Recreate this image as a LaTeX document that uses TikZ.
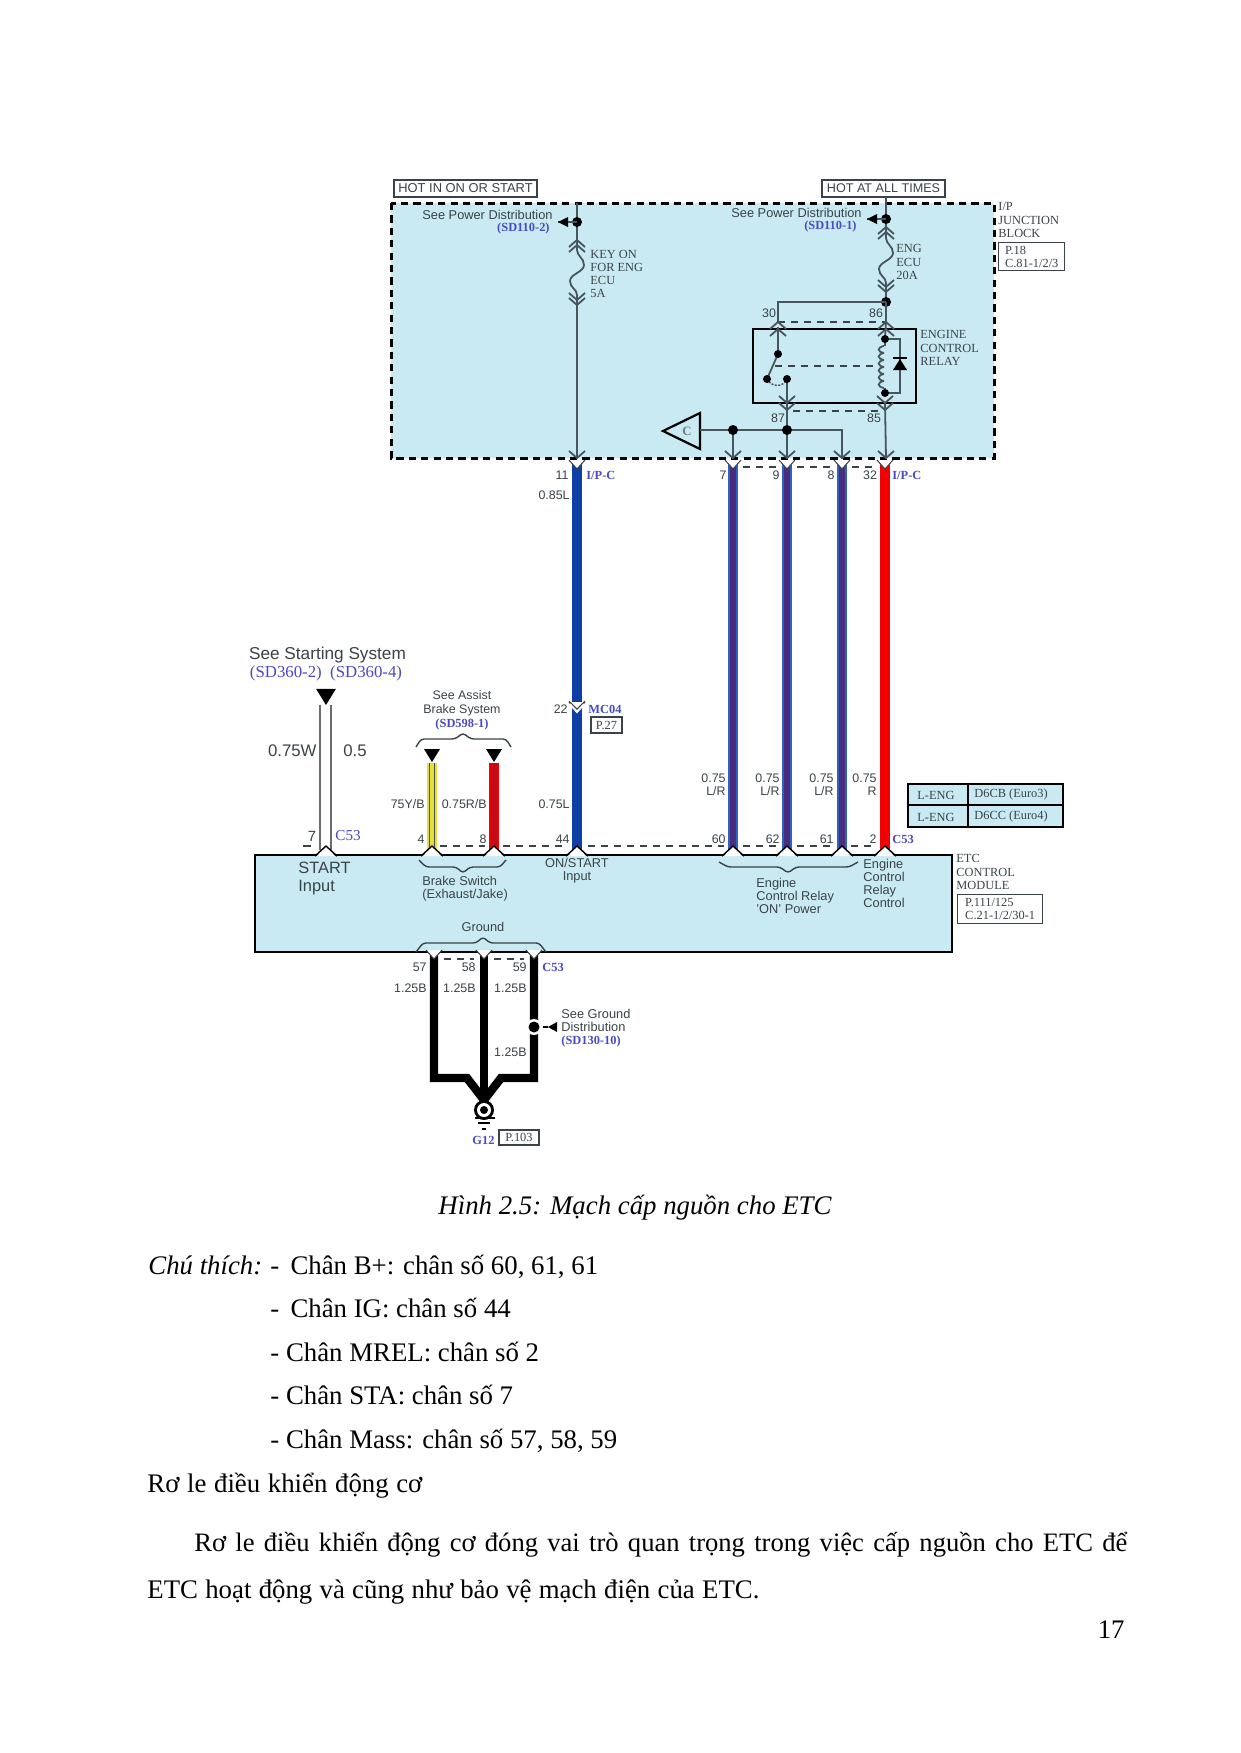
\documentclass[tikz,border=0pt]{standalone}
\usepackage{fontspec}
\setmainfont{Liberation Serif}
\setsansfont{Liberation Sans}
\definecolor{panel}{HTML}{C9EAF2}
\definecolor{ink}{HTML}{3A4348}
\definecolor{wireg}{HTML}{46565C}
\definecolor{refblue}{HTML}{4A4AC4}
\definecolor{wblue}{HTML}{0D3FA5}
\definecolor{wedge}{HTML}{2F5FC0}
\definecolor{wpurple}{HTML}{4A2C7C}
\definecolor{wred}{HTML}{F20000}
\definecolor{wyellow}{HTML}{E4E03A}
\definecolor{wdred}{HTML}{C40A14}
\newcommand\fsz[2]{\fontsize{#1}{#2}\selectfont}
\tikzset{
  x=0.5pt,y=-0.5pt,
  lbl/.style={inner sep=0pt,text=ink,align=left,font=\sffamily\fsz{6.4}{6.6}},
  lblc/.style={lbl,align=center},
  lblr/.style={lbl,align=right},
  ser/.style={inner sep=0pt,text=ink,align=left,font=\fsz{6.2}{6.6}},
  ref/.style={inner sep=0pt,text=refblue,font=\bfseries\fsz{6.2}{6.6}},
  refbig/.style={inner sep=0pt,text=refblue,font=\fsz{8.4}{9}},
  num/.style={inner sep=0pt,text=ink,font=\sffamily\fsz{6.2}{6.6}},
  big/.style={inner sep=0pt,text=ink,align=left,font=\sffamily\fsz{8.4}{9}},
  bodyt/.style={inner sep=0pt,text=black,anchor=base west,font=\fsz{13.4}{14}},
  thinw/.style={draw=wireg,line width=0.9pt},
  frameb/.style={draw=ink,line width=0.7pt},
  dashb/.style={draw=black,line width=1.5pt,dash pattern=on 3.6pt off 2.6pt},
  dashw/.style={draw=ink,line width=0.7pt,dash pattern=on 3.5pt off 3pt},
  brace/.style={draw=ink,line width=0.7pt,rounded corners=1.5pt},
  chevd/.pic={\draw[thinw] (-8,-7)--(0,0)--(8,-7);},
  chevu/.pic={\draw[thinw] (-8,7)--(0,0)--(8,7);},
  tridown/.pic={\fill[white] (-8,-3)--(8,-3)--(0,6)--cycle;\draw[ink,line width=0.5pt] (-8,-3)--(0,6)--(8,-3);},
  triup/.pic={\fill[white] (-9,1)--(9,1)--(0,-9)--cycle;\draw[black,line width=0.7pt] (-11,1)--(0,-9)--(11,1);},
  blob/.pic={\fill[black] (0,0) circle (5);},
  blackdown/.pic={\fill[black] (-8,-13)--(8,-13)--(0,0)--cycle;},
  lefttip/.pic={\fill[black] (0,0)--(10,-5)--(10,5)--cycle;},
}
\newcommand\stripewire[2]{%
  \draw[wedge,line width=5pt] (#1)--(#2);
  \draw[wpurple,line width=3.2pt] (#1)--(#2);}
\begin{document}
\begin{tikzpicture}
\useasboundingbox (0,0) rectangle (1241,1753);
\fill[white] (0,0) rectangle (1241,1753);

% ---- junction block
\fill[panel] (391,203) rectangle (994,458);
\draw[dashb] (391,203) rectangle (994,458);
\node[frameb,inner sep=0pt,minimum width=71.5pt,minimum height=8.5pt,text=ink,font=\sffamily\fsz{6.45}{6.5}] (hoton) at (465.5,188.5) {HOT IN ON OR START};
\node[frameb,inner sep=0pt,minimum width=61.5pt,minimum height=8.5pt,text=ink,font=\sffamily\fsz{6.3}{6.5}] (hotall) at (883.5,188.5) {HOT AT ALL TIMES};

% coordinates
\coordinate (lt) at (577,203);
\coordinate (ld) at (577,222);
\coordinate (lf1) at (577,250);
\coordinate (lf2) at (577,295);
\coordinate (lb) at (577,458);
\coordinate (rt) at (886,197);
\coordinate (rd) at (886,219);
\coordinate (rf1) at (886,238);
\coordinate (rf2) at (886,283);
\coordinate (rj) at (886,302);
\coordinate (c30) at (778,322);
\coordinate (c86) at (886,322);
\coordinate (r85) at (886,405);
\coordinate (rb) at (886,458);
\coordinate (c87) at (787,405);
\coordinate (j1) at (733,430);
\coordinate (j2) at (787,430);
\coordinate (j3) at (842,430);
\coordinate (b1) at (733,458);
\coordinate (b2) at (787,458);
\coordinate (b3) at (842,458);
\coordinate (sw1) at (778,354);
\coordinate (sw2) at (767,379);
\coordinate (sw3) at (787,379);
\coordinate (co1) at (885,339);
\coordinate (co2) at (885,393);

% left feed + fuse
\draw[thinw] (lt)--(lf1) .. controls (577,256) and (584,258) .. (584,265) .. controls (584,272) and (570,274) .. (570,281) .. controls (570,288) and (577,289) .. (lf2)--(lb);
\pic at (577,240) {chevu}; \pic at (577,245) {chevu};
\pic at (577,300) {chevd}; \pic at (577,305) {chevd};
\pic at (ld) {blob};
\coordinate (la) at (558,222);
\draw[thinw] (ld)--(la);
\pic at (la) {lefttip};
% right feed + fuse
\draw[thinw] (rt)--(rf1) .. controls (886,244) and (893,246) .. (893,253) .. controls (893,260) and (879,262) .. (879,269) .. controls (879,276) and (886,277) .. (rf2)--(rj);
\pic at (886,227) {chevu}; \pic at (886,232) {chevu};
\pic at (886,287) {chevd}; \pic at (886,292) {chevd};
\pic at (rd) {blob};
\coordinate (ra) at (867,219);
\draw[thinw] (rd)--(ra);
\pic at (ra) {lefttip};
\pic at (rj) {blob};
\draw[thinw] (rj)--(c86);
\draw[thinw] (rj)-|(c30);

% relay
\draw[draw=black,line width=1.3pt] (753,329) rectangle (916,403);
\draw[dashw] (c30)--(c86);
\draw[thinw] (778,327)--(sw1)--(sw2);
\draw[thinw] (sw3)--(c87);
\draw[wireg,line width=0.7pt,dash pattern=on 1pt off 0.7pt] (sw2) .. controls (771,387) and (783,388) .. (sw3);
\foreach \p in {sw1,sw2,sw3} {\pic[scale=0.8] at (\p) {blob};}
\draw[dashw] (775,366)--(878,366);
\draw[thinw] (c86)--(co1);
\foreach \y in {346,353,360,367,374,381} {\draw[thinw] (884,\y) .. controls (877,\y+1) and (877,\y+6) .. (884,\y+7);}
\draw[thinw] (co1)--(885,346);
\draw[thinw] (885,388)--(co2);
\draw[thinw] (co1)-|(900,393)--(co2);
\fill[black] (900,359)--(907,370)--(893,370)--cycle;
\draw[black,line width=0.8pt] (893,358)--(907,358);
\pic[scale=0.8] at (co1) {blob};
\pic[scale=0.8] at (co2) {blob};
\pic at (778,329) {chevu}; \pic at (886,329) {chevu};
\pic at (778,322) {chevu}; \pic at (886,322) {chevu};
\pic at (787,403) {chevd}; \pic at (885,403) {chevd};
\pic at (787,410) {chevd}; \pic at (885,410) {chevd};
\draw[dashw] (793,411)--(880,411);
\draw[thinw] (787,403)--(j2);
\draw[thinw] (885,403)--(rb);

% C triangle and bus
\node[inner sep=0pt,text=ink!70,font=\bfseries\fsz{6.4}{7}] (ctext) at (687,431) {C};
\coordinate (ctri) at (700,430);
\draw[black,line width=1.1pt] (663,431)--(700,413)--(700,449)--cycle;
\draw[thinw] (ctri)--(j1)--(j2)--(j3)--(b3);
\draw[thinw] (j1)--(b1);
\draw[thinw] (j2)--(b2);
\pic at (j1) {blob}; \pic at (j2) {blob};
\foreach \p in {lb,b1,b2,b3,rb} {\pic at (\p) {chevd};}

% ---- ETC module
\fill[panel] (255,855) rectangle (952,952);
\draw[black,line width=1pt] (255,855) rectangle (952,952);
\draw[black,line width=1.3pt] (255,855)--(366,855);

% main coloured wires
\coordinate (p44) at (577,853); \coordinate (p60) at (733,853); \coordinate (p62) at (787,853);
\coordinate (p61) at (842,853); \coordinate (p2) at (885,853);
\draw[wblue,line width=5pt] (577,463)--(p44);
\stripewire{733,463}{p60}
\stripewire{787,463}{p62}
\stripewire{842,463}{p61}
\draw[wred,line width=5pt] (885,463)--(p2);
\foreach \x in {577,733,787,842,885} {\pic at (\x,463) {tridown};}
\draw[dashw] (743,467)--(778,467);
\draw[dashw] (797,467)--(832,467);
\draw[dashw] (852,467)--(876,467);

% MC04 splice
\pic at (577,705) {tridown};
\draw[white,line width=1pt] (570,704)--(577,712)--(584,704);
\draw[ink,line width=0.5pt] (569,701)--(577,709)--(585,701);

% start wire
\coordinate (stt) at (326,705);
\coordinate (st1) at (320,705); \coordinate (st2) at (331,705);
\coordinate (stb1) at (320,850); \coordinate (stb2) at (331,850);
\draw[draw=gray!85!black,line width=1pt] (st1)--(stb1);
\draw[draw=gray!85!black,line width=1pt] (st2)--(stb2);
\pic[scale=1.25] at (stt) {blackdown};
\pic at (326,855) {triup};
\draw[ink,line width=0.7pt] (303,846)--(311,846);

% brake wires
\coordinate (y1) at (432,763); \coordinate (y2) at (432,853);
\coordinate (q1) at (494,763); \coordinate (q2) at (494,853);
\draw[wyellow,line width=5pt] (y1)--(y2);
\draw[black!70,line width=0.5pt] ([xshift=-1.1pt]y1)--([xshift=-1.1pt]y2);
\draw[black!70,line width=0.5pt] ([xshift=1.1pt]y1)--([xshift=1.1pt]y2);
\draw[wred,line width=5pt] (q1)--(q2);
\draw[wdred,line width=3pt] (q1)--(q2);
\pic at (432,762) {blackdown};
\pic at (494,762) {blackdown};
\foreach \x in {432,494,577,733,787,842,885} {\pic at (\x,855) {triup};}
\draw[dashw] (440,846)--(485,846);
\draw[dashw] (503,846)--(568,846);
\draw[dashw] (588,846)--(724,846);
\draw[dashw] (743,846)--(778,846);
\draw[dashw] (797,846)--(832,846);
\draw[dashw] (851,846)--(876,846);

% ground wires
\coordinate (g1) at (434,952); \coordinate (g2) at (484,952); \coordinate (g3) at (534,952);
\coordinate (gc) at (484,1100); \coordinate (gj) at (534,1027);
\draw[black,line width=4.2pt,line join=miter] (g1)--(434,1078)--(467,1078)--(gc);
\draw[black,line width=4.2pt,line join=miter] (g3)--(534,1078)--(501,1078)--(gc);
\draw[black,line width=4.2pt] (g2)--(gc);
\foreach \x in {434,484,534} {\pic at (\x,953) {tridown};}
\draw[dashw] (444,959)--(474,959);
\draw[dashw] (494,959)--(524,959);
\fill[white] (gj) circle (8);
\fill[black] (gj) circle (5.5);
\coordinate (gt) at (548,1027);
\draw[black,line width=0.8pt] (543,1027)--(gt);
\fill[black] (gt)--(557,1022)--(557,1032)--cycle;
% ground symbol
\fill[black] (484,1110) circle (10);
\fill[white] (484,1110) circle (7);
\fill[black] (484,1110) circle (4);
\draw[black,line width=0.9pt] (475,1118)--(495,1118);
\draw[black,line width=0.9pt] (478,1123)--(490,1123);
\draw[black,line width=0.9pt] (482,1129)--(486,1129);

% braces
\draw[brace] (416,747)--(421,739)--(455,739)--(463,733)--(471,739)--(506,739)--(511,747);
\draw[brace] (419,860)--(426,867)--(456,867)--(463,873)--(470,867)--(500,867)--(506,860);
\draw[brace] (719,862)--(728,867)--(780,867)--(788,873)--(796,867)--(849,867)--(858,862);
\draw[brace] (416,952)--(423,943)--(476,943)--(483,937)--(490,943)--(539,943)--(546,952);

% ---- labels, top block
\node[lbl,anchor=east] (tsp1) at (553,215) {See Power Distribution};
\node[ref,anchor=east] (tsd1) at (550,229) {(SD110-2)};
\node[lbl,anchor=east] (tsp2) at (862,213) {See Power Distribution};
\node[ref,anchor=east] (tsd2) at (857,227) {(SD110-1)};
\node[ser,anchor=west] (tk) at (590,274) {KEY ON\\FOR ENG\\ECU\\5A};
\node[ser,anchor=west] (te) at (896,262) {ENG\\ECU\\20A};
\node[ser,anchor=west] (tr) at (920,348) {ENGINE\\CONTROL\\RELAY};
\node[ser,anchor=west] (tj) at (998,220) {I/P\\JUNCTION\\BLOCK};
\node[ser,frameb,anchor=north west,minimum width=33pt,minimum height=14pt,inner xsep=1.5pt] (tjb) at (998,242) {P.18\\C.81-1/2/3};
\node[num,anchor=center] (n30) at (769,313) {30};
\node[num,anchor=center] (n86) at (876,313) {86};
\node[num,anchor=center] (n87) at (778,418) {87};
\node[num,anchor=center] (n85) at (874,418) {85};
\node[num,anchor=east] (n11) at (569,475) {11};
\node[ref,anchor=west] (ipc1) at (586,475) {I/P-C};
\node[num,anchor=center] (n7) at (723,475) {7};
\node[num,anchor=center] (n9) at (776,475) {9};
\node[num,anchor=center] (n8) at (831,475) {8};
\node[num,anchor=center] (n32) at (870,475) {32};
\node[ref,anchor=west] (ipc2) at (892,475) {I/P-C};
\node[num,anchor=east] (n085l) at (570,495) {0.85L};

% ---- labels, mid
\node[lblc,font=\sffamily\fsz{8.6}{9}] (tstart) at (327.5,655) {See Starting System};
\node[refbig] (tsd36) at (326,673) {(SD360-2)\ \ (SD360-4)};
\node[big,anchor=east] (t075w) at (317,751) {0.75W};
\node[big,anchor=west] (t05) at (343,751) {0.5};
\node[num,anchor=center,font=\sffamily\fsz{7.4}{8}] (n7b) at (312,836) {7};
\node[refbig,anchor=west,font=\fsz{7.6}{8}] (c53a) at (335,836) {C53};
\node[lblc,font=\sffamily\fsz{6.2}{6.9}] (tassist) at (462,703) {See Assist\\Brake System};
\node[ref] (tsd598) at (462,725) {(SD598-1)};
\node[num,anchor=east] (t75y) at (425,804) {75Y/B};
\node[num,anchor=east] (t75r) at (487,804) {0.75R/B};
\node[num,anchor=east] (t75l) at (570,804) {0.75L};
\node[num,anchor=center] (n4) at (421,839) {4};
\node[num,anchor=center] (n8b) at (483,839) {8};
\node[num,anchor=east] (n44) at (570,839) {44};
\node[num,anchor=east] (n22) at (568,709) {22};
\node[ref,anchor=west] (mc04) at (588,709) {MC04};
\node[ser,frameb,minimum width=15.5pt,minimum height=8pt] (p27) at (606.5,725) {P.27};
\foreach \x/\n/\t in {726/a/L\slash R,780/b/L\slash R,834/c/L\slash R,877/d/R} {
  \node[num,anchor=east,align=right] (v\n) at (\x,785) {0.75\\\t};
}
\node[num,anchor=east] (n60) at (726,839) {60};
\node[num,anchor=east] (n62) at (780,839) {62};
\node[num,anchor=east] (n61) at (834,839) {61};
\node[num,anchor=east] (n2) at (877,839) {2};
\node[ref,anchor=west] (c53b) at (892,839) {C53};

% table
\fill[panel] (908,784) rectangle (1063,827);
\draw[black,line width=0.9pt] (908,784) rectangle (1063,827);
\draw[black,line width=0.9pt] (908,805)--(1063,805);
\draw[black,line width=0.9pt] (968,784)--(968,827);
\node[ser,anchor=west] (tl1) at (917,795) {L-ENG};
\node[ser,anchor=west] (tl2) at (917,817) {L-ENG};
\node[ser,anchor=west] (td1) at (974,795) {D6CB (Euro3)};
\node[ser,anchor=west] (td2) at (974,817) {D6CC (Euro4)};

% module labels
\node[big,anchor=west,font=\sffamily\fsz{8.2}{9}] (tsi) at (298,878) {START\\Input};
\node[lbl,anchor=west] (tbs) at (422,889) {Brake Switch\\(Exhaust/Jake)};
\node[lblc] (tos) at (577,871) {ON/START\\Input};
\node[lbl,anchor=west] (tecr) at (756,896) {Engine\\Control Relay\\'ON' Power};
\node[lbl,anchor=west] (tcrc) at (863,883.5) {Engine\\Control\\Relay\\Control};
\node[lblc] (tgnd) at (483,927) {Ground};
\node[ser,anchor=west] (tetc) at (956,872) {ETC\\CONTROL\\MODULE};
\node[ser,frameb,anchor=north west,minimum width=42.5pt,minimum height=14.5pt,inner xsep=1.5pt] (tetcb) at (957,894) {P.111/125\\C.21-1/2/30-1};

% ground labels
\node[num,anchor=east] (n57) at (427,967) {57};
\node[num,anchor=east] (n58) at (476,967) {58};
\node[num,anchor=east] (n59) at (527,967) {59};
\node[ref,anchor=west] (c53c) at (542,967) {C53};
\node[num,anchor=east] (w1) at (427,988) {1.25B};
\node[num,anchor=east] (w2) at (476,988) {1.25B};
\node[num,anchor=east] (w3) at (527,988) {1.25B};
\node[num,anchor=east] (w4) at (527,1052) {1.25B};
\node[lbl,anchor=west] (tsg) at (561,1020.5) {See Ground\\Distribution};
\node[ref,anchor=west] (tsd130) at (561,1041) {(SD130-10)};
\node[ref,anchor=west] (g12) at (472,1140) {G12};
\node[ser,frameb,minimum width=20pt,minimum height=7.5pt] (p103) at (519,1137.5) {P.103};

% ---- page text
\node[bodyt,anchor=base,font=\itshape\fsz{13.4}{14}] (cap) at (635,1214) {Hình 2.5: Mạch cấp nguồn cho ETC};
\node[bodyt] (l1a) at (148,1274) {\itshape Chú thích:};
\node[bodyt] (l1b) at (270,1274) {-\hspace{5.6pt}Chân B+: chân số 60, 61, 61};
\node[bodyt] (l2) at (270,1317) {-\hspace{5.6pt}Chân IG: chân số 44};
\node[bodyt] (l3) at (270,1361) {- Chân MREL: chân số 2};
\node[bodyt] (l4) at (270,1404) {- Chân STA: chân số 7};
\node[bodyt] (l5) at (270,1448) {- Chân Mass: chân số 57, 58, 59};
\node[bodyt] (l6) at (147,1492) {\makebox[137.5pt][s]{Rơ le điều khiển động cơ}};
\node[bodyt,font=\fsz{13.3}{14}] (l7) at (194,1551) {\makebox[466.5pt][s]{Rơ le điều khiển động cơ đóng vai trò quan trọng trong việc cấp nguồn cho ETC để}};
\node[bodyt] (l8) at (147,1598) {\makebox[306pt][s]{ETC hoạt động và cũng như bảo vệ mạch điện của ETC.}};
\node[bodyt,anchor=base east] (pg) at (1125,1638) {17};
\end{tikzpicture}
\end{document}
